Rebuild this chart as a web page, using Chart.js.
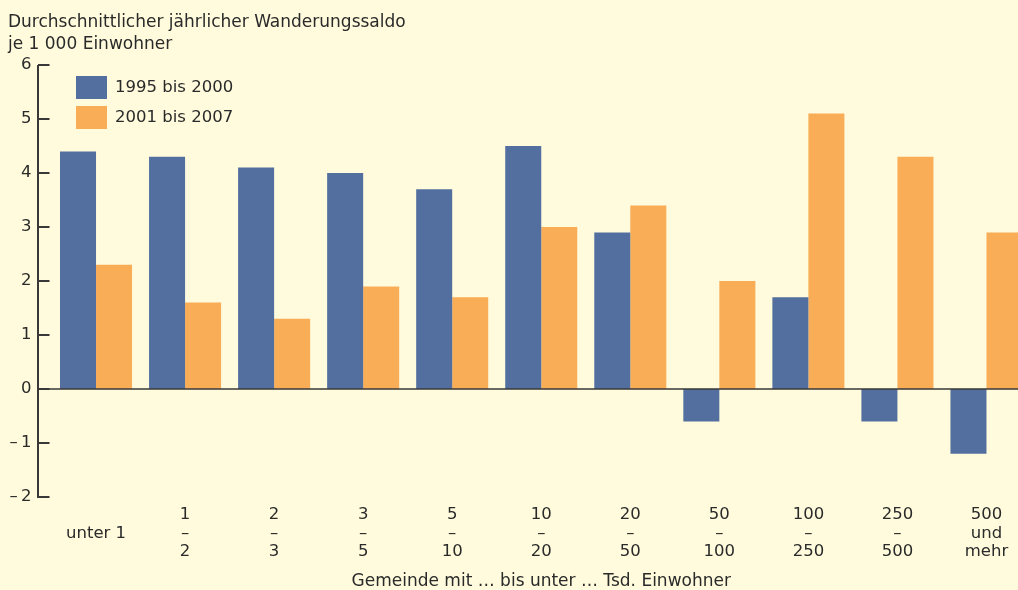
<!DOCTYPE html>
<html lang="de">
<head>
<meta charset="utf-8">
<title>Wanderungssaldo nach Gemeindegröße</title>
<script src="https://cdn.jsdelivr.net/npm/chart.js@4.4.1/dist/chart.umd.min.js"></script>
<style>
  html, body { margin: 0; padding: 0; background: #fffbdc; overflow: hidden; }
  #wrap { width: 1031px; height: 590px; }
</style>
</head>
<body>
<div id="wrap"><canvas id="chartSaldo" width="1031" height="590"></canvas></div>
<script>
// Gemeindegrößenklassen (Tsd. Einwohner), mehrzeilig wie im Original
const kategorien = [
    ['', 'unter 1', ''],
    ['1', '–', '2'],
    ['2', '–', '3'],
    ['3', '–', '5'],
    ['5', '–', '10'],
    ['10', '–', '20'],
    ['20', '–', '50'],
    ['50', '–', '100'],
    ['100', '–', '250'],
    ['250', '–', '500'],
    ['500', 'und', 'mehr']
];
const saldo1995bis2000 = [4.4, 4.3, 4.1, 4.0, 3.7, 4.5, 2.9, -0.6, 1.7, -0.6, -1.2];
const saldo2001bis2007 = [2.3, 1.6, 1.3, 1.9, 1.7, 3.0, 3.4, 2.0, 5.1, 4.3, 2.9];
const yTicks = [-2, -1, 0, 1, 2, 3, 4, 5, 6];
const serienNamen = ['1995 bis 2000', '2001 bis 2007'];
const titelZeilen = ['Durchschnittlicher jährlicher Wanderungssaldo', 'je 1 000 Einwohner'];
const xTitel = 'Gemeinde mit … bis unter … Tsd. Einwohner';

const FONT = "'DejaVu Sans', sans-serif";
const TEXT = '#2a2a2a';
const ACHSE = '#383838';
const BLAU = '#536fa0';
const ORANGE = '#f9ad57';

// Legende oben links im Diagramm
const legendePlugin = {
    id: 'legende',
    afterDraw(chart) {
        const ctx = chart.ctx;
        ctx.save();
        ctx.font = '16.5px ' + FONT;
        ctx.textBaseline = 'middle';
        ctx.textAlign = 'left';
        chart.data.datasets.forEach((ds, i) => {
            const y = 76 + i * 30;
            ctx.fillStyle = ds.backgroundColor;
            ctx.fillRect(76, y, 31, 23);
            ctx.fillStyle = TEXT;
            ctx.fillText(ds.label, 115, y + 12);
        });
        ctx.restore();
    }
};

// y-Achse mit Strichen nach innen und Nulllinie
const achsenPlugin = {
    id: 'achsen',
    afterDatasetsDraw(chart) {
        const { ctx, chartArea, scales: { y } } = chart;
        const ax = Math.round(chartArea.left - 13.5);
        ctx.save();
        ctx.strokeStyle = ACHSE;
        ctx.lineWidth = 2;
        ctx.beginPath();
        ctx.moveTo(ax, y.getPixelForValue(y.max));
        ctx.lineTo(ax, y.getPixelForValue(y.min) + 1);
        y.ticks.forEach(t => {
            const py = y.getPixelForValue(t.value);
            ctx.moveTo(ax, py);
            ctx.lineTo(ax + 11.5, py);
        });
        ctx.stroke();
        const p0 = y.getPixelForValue(0);
        ctx.lineWidth = 1.6;
        ctx.beginPath();
        ctx.moveTo(ax, p0);
        ctx.lineTo(chart.width, p0);
        ctx.stroke();
        ctx.restore();
    }
};

let chartSaldo;

const initChartSaldo = () => {
    const ctx = document.getElementById('chartSaldo').getContext('2d');
    chartSaldo = new Chart(ctx, {
        type: 'bar',
        data: {
            labels: kategorien,
            datasets: [
                { label: serienNamen[0], data: saldo1995bis2000, backgroundColor: BLAU },
                { label: serienNamen[1], data: saldo2001bis2007, backgroundColor: ORANGE }
            ]
        },
        options: {
            responsive: false,
            animation: false,
            events: [],
            layout: { padding: { left: 8, right: 0, top: 0, bottom: 0 } },
            datasets: {
                bar: { categoryPercentage: 0.809, barPercentage: 1.0, borderWidth: 0 }
            },
            plugins: {
                legend: { display: false },
                tooltip: { enabled: false },
                title: {
                    display: true,
                    text: titelZeilen,
                    align: 'start',
                    color: TEXT,
                    font: { family: FONT, size: 17, weight: 'normal', lineHeight: 1.3 },
                    padding: { top: 11.5, bottom: 9.3 }
                }
            },
            scales: {
                x: {
                    grid: { display: false, drawTicks: false },
                    border: { display: false },
                    ticks: {
                        color: TEXT,
                        padding: 8.5,
                        maxRotation: 0,
                        autoSkip: false,
                        font: { family: FONT, size: 16.5, lineHeight: 1.12 }
                    },
                    title: {
                        display: true,
                        text: xTitel,
                        color: TEXT,
                        padding: 0,
                        font: { family: FONT, size: 17, lineHeight: 1.0 }
                    },
                    afterFit: s => { s.height = 93; }
                },
                y: {
                    min: yTicks[0],
                    max: yTicks[yTicks.length - 1],
                    grid: { display: false, drawTicks: false },
                    border: { display: false },
                    afterBuildTicks: s => { s.ticks = yTicks.map(v => ({ value: v })); },
                    ticks: {
                        color: TEXT,
                        padding: 20,
                        font: { family: FONT, size: 16.5 },
                        callback: v => (v < 0 ? '\u2013\u2009' + Math.abs(v) : String(v))
                    },
                    afterFit: s => { s.width = 43.5; }
                }
            }
        },
        plugins: [achsenPlugin, legendePlugin]
    });
};

initChartSaldo();
</script>
</body>
</html>
